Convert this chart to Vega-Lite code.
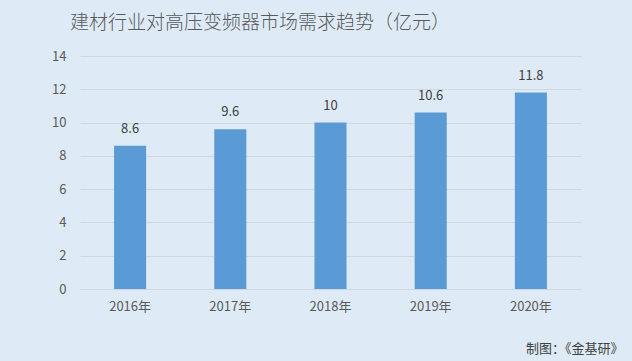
{
  "$schema": "https://vega.github.io/schema/vega-lite/v6.json",
  "width": 501,
  "height": 233,
  "autosize": "none",
  "padding": {"left": 80, "top": 56, "right": 51, "bottom": 72},
  "background": "#DEEBF7",
  "config": {
    "view": {"stroke": null},
    "font": "Noto Sans CJK SC"
  },
  "title": {
    "text": "建材行业对高压变频器市场需求趋势（亿元）",
    "anchor": "start",
    "frame": "group",
    "dx": -10,
    "offset": 17,
    "fontSize": 19,
    "fontWeight": 300,
    "color": "#595959"
  },
  "data": {
    "values": [
      {"year": "2016年", "value": 8.6},
      {"year": "2017年", "value": 9.6},
      {"year": "2018年", "value": 10},
      {"year": "2019年", "value": 10.6},
      {"year": "2020年", "value": 11.8}
    ]
  },
  "encoding": {
    "x": {
      "field": "year",
      "type": "nominal",
      "sort": null,
      "scale": {"paddingInner": 0.68, "paddingOuter": 0.34},
      "axis": {
        "labelAngle": 0,
        "labelFontSize": 13,
        "labelColor": "#595959",
        "labelPadding": 11,
        "ticks": false,
        "domainColor": "#D0D7DF",
        "domainWidth": 1,
        "title": "制图：《金基研》",
        "titleFontSize": 13,
        "titleFontWeight": "normal",
        "titleColor": "#404040",
        "titleAnchor": "end",
        "titleAlign": "right",
        "titleBaseline": "middle",
        "titleX": 543,
        "titleY": 59
      }
    },
    "y": {
      "field": "value",
      "type": "quantitative",
      "scale": {"domain": [0, 14]},
      "axis": {
        "values": [0, 2, 4, 6, 8, 10, 12, 14],
        "labelFontSize": 13,
        "labelColor": "#595959",
        "labelPadding": 14,
        "ticks": false,
        "domain": false,
        "gridColor": "#D0D7DF",
        "title": null
      }
    }
  },
  "layer": [
    {"mark": {"type": "bar", "color": "#5B9BD5"}},
    {
      "mark": {"type": "text", "dy": -10, "baseline": "bottom", "fontSize": 13, "color": "#404040"},
      "encoding": {"text": {"field": "value", "type": "quantitative"}}
    }
  ]
}
